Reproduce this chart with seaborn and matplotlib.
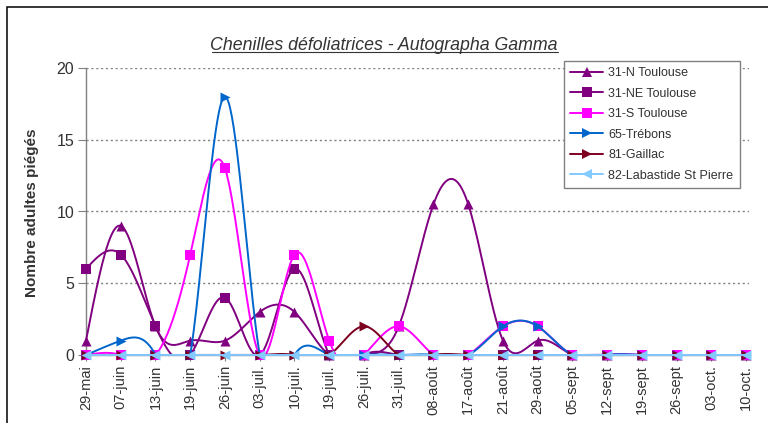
import numpy as np
import pandas as pd
import matplotlib
matplotlib.use("Agg")
import matplotlib.pyplot as plt
import seaborn as sns
from matplotlib.lines import Line2D
from matplotlib.patches import Rectangle

# ---------------- data ----------------
dates = ["29-mai", "07-juin", "13-juin", "19-juin", "26-juin", "03-juil.", "10-juil.",
         "19-juil.", "26-juil.", "31-juil.", "08-août", "17-août", "21-août", "29-août",
         "05-sept", "12-sept", "19-sept", "26-sept", "03-oct.", "10-oct."]
n_toulouse = [1, 9, 2, 1, 1, 3, 3, 0, 0, 2, 10.5, 10.5, 1, 1, 0, 0, 0, 0, 0, 0]
ne_toulouse = [6, 7, 2, 0, 4, 0, 6, 0, 0, 0, 0, 0, 0, 0, 0, 0, 0, 0, 0, 0]
s_toulouse = [0, 0, 0, 7, 13, 0, 7, 1, 0, 2, 0, 0, 2, 2, 0, 0, 0, 0, 0, 0]
trebons = [0, 1, 0, 0, 18, 0, 0, 0, 0, 0, 0, 0, 2, 2, 0, 0, 0, 0, 0, 0]
gaillac = [0, 0, 0, 0, 0, 0, 0, 0, 2, 0, 0, 0, 0, 0, 0, 0, 0, 0, 0, 0]
labastide = [0, 0, 0, 0, 0, 0, 0, 0, 0, 0, 0, 0, 0, 0, 0, 0, 0, 0, 0, 0]

series_names = ["31-N Toulouse", "31-NE Toulouse", "31-S Toulouse", "65-Trébons",
                "81-Gaillac", "82-Labastide St Pierre"]
series_values = [n_toulouse, ne_toulouse, s_toulouse, trebons, gaillac, labastide]
colors = ["#800080", "#800080", "#FF00FF", "#0066CC", "#7E0021", "#83CAFF"]
markers = ["^", "s", "s", ">", ">", "<"]

title = "Chenilles défoliatrices - Autographa Gamma"
ylabel = "Nombre adultes piégés"


def natural_spline(y, per=40):
    y = np.asarray(y, float)
    n = len(y)
    A = np.zeros((n, n))
    b = np.zeros(n)
    A[0, 0] = A[-1, -1] = 1
    for i in range(1, n - 1):
        A[i, i - 1], A[i, i], A[i, i + 1] = 1, 4, 1
        b[i] = 6 * (y[i + 1] - 2 * y[i] + y[i - 1])
    M = np.linalg.solve(A, b)
    xs, ys = [], []
    for i in range(n - 1):
        t = np.linspace(0, 1, per, endpoint=(i == n - 2))
        a = 1 - t
        v = a * y[i] + t * y[i + 1] + ((a ** 3 - a) * M[i] + (t ** 3 - t) * M[i + 1]) / 6
        xs.append(i + t)
        ys.append(v)
    return np.concatenate(xs), np.concatenate(ys)


# ---------------- style ----------------
sns.set_theme(style="white")
plt.rcParams["font.family"] = ["Liberation Sans", "DejaVu Sans"]

fig = plt.figure(figsize=(7.68, 4.23), dpi=100)
ax = fig.add_axes([86 / 768, 1 - 355 / 423, (749 - 86) / 768, (355 - 68) / 423])

x_idx = np.arange(len(dates))
for k, (name, vals, col, mk) in enumerate(zip(series_names, series_values, colors, markers)):
    xs, ys = natural_spline(vals)
    ys = np.clip(ys, 0, None)
    curve = pd.DataFrame({"x": xs, "y": ys})
    pts = pd.DataFrame({"x": x_idx, "y": vals})
    sns.lineplot(data=curve, x="x", y="y", ax=ax, color=col, lw=1.4,
                 estimator=None, sort=False, zorder=3 + 2 * k, clip_on=False)
    sns.scatterplot(data=pts, x="x", y="y", ax=ax, color=col, marker=mk, s=52,
                    linewidth=0, zorder=4 + 2 * k, clip_on=False, legend=False)

ax.set_xlim(0, 19.08)
ax.set_ylim(0, 20)
ax.set_yticks([0, 5, 10, 15, 20])
ax.set_xticks(x_idx)
ax.set_xticklabels(dates, rotation=90, fontsize=10.5, color="#333333")
ax.set_yticklabels(["0", "5", "10", "15", "20"], fontsize=11.5, color="#333333")
ax.tick_params(axis="y", length=5.5, width=0.8, direction="out", left=True, pad=3,
               color="#808080")
ax.tick_params(axis="x", length=4, width=0.8, direction="out", bottom=True, pad=3,
               color="#808080")
ax.set_xlabel("")
ax.set_ylabel("")
ax.yaxis.grid(True, linestyle=(0, (1.5, 2)), color="#808080", lw=1.0)
ax.xaxis.grid(False)
for side in ["top", "right"]:
    ax.spines[side].set_visible(False)
ax.spines["left"].set_color("#808080")
ax.spines["bottom"].set_color("#808080")
ax.spines["left"].set_linewidth(1)
ax.spines["bottom"].set_linewidth(1)
ax.set_axisbelow(True)

fig.text(32 / 768, 1 - 213 / 423, ylabel, rotation=90, ha="center", va="center",
         fontsize=11, fontweight="bold", color="#333333")
t = fig.text(384 / 768, 1 - 50 / 423, title, ha="center", va="baseline",
             fontsize=12.8, style="italic", color="#333333")

handles = [Line2D([], [], color=c, marker=m, markersize=7, lw=1.4, markeredgewidth=0)
           for c, m in zip(colors, markers)]
leg = fig.legend(handles, series_names, loc="upper left",
                 bbox_to_anchor=(564 / 768, 1 - 61 / 423), bbox_transform=fig.transFigure,
                 fontsize=9, handlelength=2.65, handletextpad=0.4, labelspacing=0.68,
                 borderpad=0.5, borderaxespad=0, fancybox=False, framealpha=1,
                 edgecolor="#808080")
leg.get_frame().set_linewidth(1)
for txt in leg.get_texts():
    txt.set_color("#333333")

# outer frame of the chart object
fig.add_artist(Rectangle((7 / 768, -0.5), 2, 0.5 + 1 - 7 / 423, transform=fig.transFigure,
                         fill=False, edgecolor="black", lw=1.1))

# underline the title (just below the baseline)
fig.canvas.draw()
bb = t.get_window_extent().transformed(fig.transFigure.inverted())
yu = 1 - 52.5 / 423
fig.add_artist(Line2D([bb.x0 + 0.002, bb.x1], [yu, yu], transform=fig.transFigure,
                      color="#333333", lw=0.8))

fig.savefig("out.png", dpi=100)
